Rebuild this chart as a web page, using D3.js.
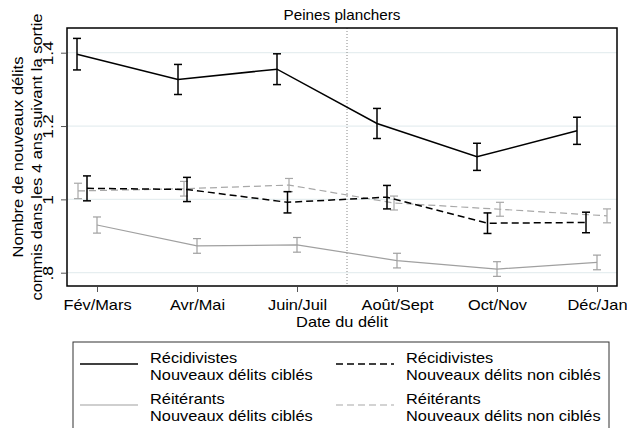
<!DOCTYPE html>
<meta charset="utf-8">
<style>
body { margin: 0; background: #fff; }
svg { font-family: "Liberation Sans", Arial, sans-serif; }
.axis path { display: none; }
.axis line { stroke: #555; }
.axis text { font-size: 14px; fill: #000; }
</style>
<body>
<svg width="627" height="428"></svg>
<script src="https://cdn.jsdelivr.net/npm/d3@7"></script>
<script>

var months = ["Fév/Mars", "Avr/Mai", "Juin/Juil", "Août/Sept", "Oct/Nov", "Déc/Jan"];
var monthPos = [1, 2, 3, 4, 5, 6];
var yTicks = [0.8, 1, 1.2, 1.4];
var yTickLabels = [".8", "1", "1.2", "1.4"];

// Récidivistes, nouveaux délits ciblés
var recCiblesX = [0.8, 1.81, 2.8, 3.8, 4.8, 5.8];
var recCibles = [1.396, 1.327, 1.355, 1.207, 1.116, 1.187];
var recCiblesErr = [0.043, 0.041, 0.042, 0.041, 0.037, 0.037];
// Récidivistes, nouveaux délits non ciblés
var recNonX = [0.9, 1.9, 2.905, 3.9, 4.905, 5.89];
var recNon = [1.030, 1.027, 0.992, 1.006, 0.935, 0.937];
var recNonErr = [0.034, 0.033, 0.029, 0.032, 0.028, 0.028];
// Réitérants, nouveaux délits ciblés
var reiCiblesX = [1, 2, 3, 4, 5, 6];
var reiCibles = [0.930, 0.873, 0.876, 0.833, 0.810, 0.828];
var reiCiblesErr = [0.022, 0.020, 0.020, 0.020, 0.020, 0.020];
// Réitérants, nouveaux délits non ciblés
var reiNonX = [0.81, 1.87, 2.92, 3.97, 5.03, 6.1];
var reiNon = [1.023, 1.029, 1.039, 0.990, 0.973, 0.955];
var reiNonErr = [0.021, 0.020, 0.018, 0.019, 0.019, 0.019];

var cutoff = 3.5;

var series = [
  {x: reiNonX, y: reiNon, e: reiNonErr, color: "#a8a8a8", dash: "7,4", width: 1.2,
   l1: "Réitérants", l2: "Nouveaux délits non ciblés"},
  {x: reiCiblesX, y: reiCibles, e: reiCiblesErr, color: "#a0a0a0", dash: null, width: 1.2,
   l1: "Réitérants", l2: "Nouveaux délits ciblés"},
  {x: recNonX, y: recNon, e: recNonErr, color: "#000", dash: "7,4", width: 1.5,
   l1: "Récidivistes", l2: "Nouveaux délits non ciblés"},
  {x: recCiblesX, y: recCibles, e: recCiblesErr, color: "#000", dash: null, width: 1.5,
   l1: "Récidivistes", l2: "Nouveaux délits ciblés"}
];

var svg = d3.select("svg"),
    plot = {left: 67, right: 617, top: 28, bottom: 286},
    sx = 1.17; // the original font is wider than Arial

var x = d3.scaleLinear().domain([0.7, 6.2]).range([plot.left, plot.right]);
var y = d3.scaleLinear().domain([0.8, 1.4]).range([272.7, 52.7]);

// stretched text helper
function label(parent, tx, ty, str, opts) {
  opts = opts || {};
  return parent.append("text")
      .attr("transform", "translate(" + tx + "," + ty + ")" +
        (opts.rot ? " rotate(" + opts.rot + ")" : "") + " scale(" + (opts.sx || sx) + ",1)")
      .attr("text-anchor", opts.anchor || "start")
      .attr("font-size", (opts.size || 14) + "px")
      .text(str);
}

// gridlines
svg.append("g").selectAll("line").data(yTicks).enter().append("line")
    .attr("x1", plot.left).attr("x2", plot.right)
    .attr("y1", function(d) { return y(d); }).attr("y2", function(d) { return y(d); })
    .attr("stroke", "#e6eef0").attr("stroke-width", 1.2);

// cutoff line
svg.append("line")
    .attr("x1", x(cutoff)).attr("x2", x(cutoff))
    .attr("y1", plot.top).attr("y2", plot.bottom)
    .attr("stroke", "#888").attr("stroke-dasharray", "1,2");

// axes
svg.append("g")
    .attr("class", "axis")
    .attr("transform", "translate(" + (plot.left - 1) + ",0)")
    .call(d3.axisLeft(y).tickValues(yTicks).tickSize(5)
      .tickFormat(function(d, i) { return yTickLabels[i]; }))
  .selectAll("text")
    .attr("transform", "rotate(-90) scale(1.25,1)")
    .attr("text-anchor", "middle")
    .attr("x", 0)
    .attr("y", -13)
    .attr("dy", 0);

svg.append("g")
    .attr("class", "axis")
    .attr("transform", "translate(0," + (plot.bottom + 1) + ")")
    .call(d3.axisBottom(x).tickValues(monthPos).tickSize(5).tickPadding(8)
      .tickFormat(function(d, i) { return months[i]; }))
  .selectAll("text")
    .attr("transform", "scale(" + sx + ",1)");

// series
var line = d3.line();
series.forEach(function(s) {
  var pts = s.x.map(function(v, i) { return [x(v), y(s.y[i])]; });
  svg.append("path")
      .attr("d", line(pts))
      .attr("fill", "none")
      .attr("stroke", s.color)
      .attr("stroke-width", s.width)
      .attr("stroke-dasharray", s.dash);
  var eb = svg.append("g").attr("stroke", s.color).attr("stroke-width", s.width);
  s.x.forEach(function(v, i) {
    var cx = x(v), y0 = y(s.y[i] - s.e[i]), y1 = y(s.y[i] + s.e[i]);
    eb.append("line").attr("x1", cx).attr("x2", cx).attr("y1", y0).attr("y2", y1);
    eb.append("line").attr("x1", cx - 4).attr("x2", cx + 4).attr("y1", y0).attr("y2", y0);
    eb.append("line").attr("x1", cx - 4).attr("x2", cx + 4).attr("y1", y1).attr("y2", y1);
  });
});

// frame
svg.append("rect")
    .attr("x", plot.left).attr("y", plot.top)
    .attr("width", plot.right - plot.left).attr("height", plot.bottom - plot.top)
    .attr("fill", "none").attr("stroke", "#000").attr("stroke-width", 1.5);

// titles
label(svg, (plot.left + plot.right) / 2, 20, "Peines planchers", {anchor: "middle", sx: 1.09});
label(svg, (plot.left + plot.right) / 2, 327, "Date du délit", {anchor: "middle"});
label(svg, 23, (plot.top + plot.bottom) / 2, "Nombre de nouveaux délits", {anchor: "middle", rot: -90, sx: 1.18});
label(svg, 41.5, (plot.top + plot.bottom) / 2, "commis dans les 4 ans suivant la sortie", {anchor: "middle", rot: -90, sx: 1.18});

// legend
var lg = svg.append("g");
lg.append("rect")
    .attr("x", 73).attr("y", 342).attr("width", 536).attr("height", 100)
    .attr("fill", "none").attr("stroke", "#333").attr("stroke-width", 1);

var legendOrder = [3, 2, 1, 0];
legendOrder.forEach(function(si, k) {
  var s = series[si],
      col = k % 2, row = Math.floor(k / 2),
      lx = col ? 336 : 80, ty = 363 + row * 41;
  lg.append("line")
      .attr("x1", lx).attr("x2", lx + 58)
      .attr("y1", ty + 1).attr("y2", ty + 1)
      .attr("stroke", s.color).attr("stroke-width", s.width)
      .attr("stroke-dasharray", s.dash);
  label(lg, lx + 70, ty, s.l1);
  label(lg, lx + 70, ty + 17, s.l2);
});

</script>
</body>
